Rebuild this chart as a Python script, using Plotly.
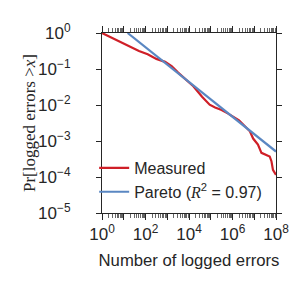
import plotly.graph_objects as go

# Measured distribution
measured_x = [1, 3.16, 10, 20, 50, 126, 316, 794, 1585, 3162, 6310, 15850, 39800,
              89100, 158500, 316000, 631000, 1.0e6, 2.0e6, 3.16e6, 6.31e6, 8.9e6,
              1.48e7, 2.14e7, 3.16e7, 5.13e7, 6.17e7, 7.24e7, 1.0e8]
measured_y = [1.0, 0.708, 0.501, 0.398, 0.316, 0.257, 0.191, 0.158, 0.120, 0.0794,
              0.0550, 0.0331, 0.0170, 0.0102, 0.00851, 0.00724, 0.00575, 0.00490,
              0.00372, 0.00282, 0.00186, 0.00117, 0.000794, 0.000468, 0.000427,
              0.000372, 0.000275, 0.000158, 0.000115]

# Pareto fit line endpoints
pareto_x = [15.1, 1.0e8]
pareto_y = [1.0, 5.1e-4]

x_major = [1, 10, 100, 1e3, 1e4, 1e5, 1e6, 1e7, 1e8]
x_labels = ["10<sup>0</sup>", "", "10<sup>2</sup>", "", "10<sup>4</sup>", "",
            "10<sup>6</sup>", "", "10<sup>8</sup>"]
y_major = [1, 1e-1, 1e-2, 1e-3, 1e-4, 1e-5]
y_labels = ["10<sup>0</sup>", "10<sup>\u22121</sup>", "10<sup>\u22122</sup>",
            "10<sup>\u22123</sup>", "10<sup>\u22124</sup>", "10<sup>\u22125</sup>"]

x_minor = [m * d for d in x_major[:-1] for m in range(2, 10)]

RED = "#cf1f27"
BLUE = "#5a87c2"
AX = "#262626"
SANS = "Liberation Sans, Arial, sans-serif"
SERIF = "Liberation Serif, Times New Roman, serif"

fig = go.Figure()
fig.add_trace(go.Scatter(x=measured_x, y=measured_y, mode="lines", name="Measured",
                         line=dict(color=RED, width=2.2)))
fig.add_trace(go.Scatter(x=pareto_x, y=pareto_y, mode="lines",
                         name="Pareto (<span style=\"font-family:Liberation Serif\"><i>R</i></span><sup>2</sup> = 0.97)",
                         line=dict(color=BLUE, width=2.2)))

fig.update_layout(
    width=298, height=286,
    margin=dict(l=94, r=30, t=25, b=81),
    paper_bgcolor="white", plot_bgcolor="white",
    font=dict(family=SANS, size=16, color=AX),
    showlegend=True,
    legend=dict(x=-0.045, y=0.022, xanchor="left", yanchor="bottom",
                bgcolor="rgba(0,0,0,0)", font=dict(size=16, family=SANS, color=AX),
                itemwidth=30, tracegroupgap=0),
    xaxis=dict(
        type="log", range=[0, 8], showgrid=False, zeroline=False,
        showline=True, linecolor=AX, linewidth=1, mirror="ticks",
        tickmode="array", tickvals=x_major, ticktext=x_labels,
        ticks="outside", ticklen=6, tickwidth=1, tickcolor=AX,
        tickfont=dict(size=17, family=SANS, color=AX),
        minor=dict(tickmode="array", tickvals=x_minor, ticks="outside",
                   ticklen=4, tickwidth=0.8, tickcolor="#666666", showgrid=False),
        title=dict(text="Number of logged errors", font=dict(size=16.7, family=SANS, color=AX),
                   standoff=10),
    ),
    yaxis=dict(
        type="log", range=[-5, 0], showgrid=False, zeroline=False,
        showline=True, linecolor=AX, linewidth=1, mirror="ticks",
        tickmode="array", tickvals=y_major, ticktext=y_labels,
        ticks="outside", ticklen=5, tickwidth=1, tickcolor=AX,
        ticklabelstandoff=22,
        tickfont=dict(size=17, family=SANS, color=AX),
    ),
    annotations=[dict(
        text="Pr[logged errors &gt;<i>x</i>]", textangle=-90,
        xref="paper", yref="paper", x=0, y=0.5, xshift=-73,
        xanchor="center", yanchor="middle", showarrow=False,
        font=dict(size=17, family=SERIF, color=AX),
    )],
)

fig.write_html("out.html")
